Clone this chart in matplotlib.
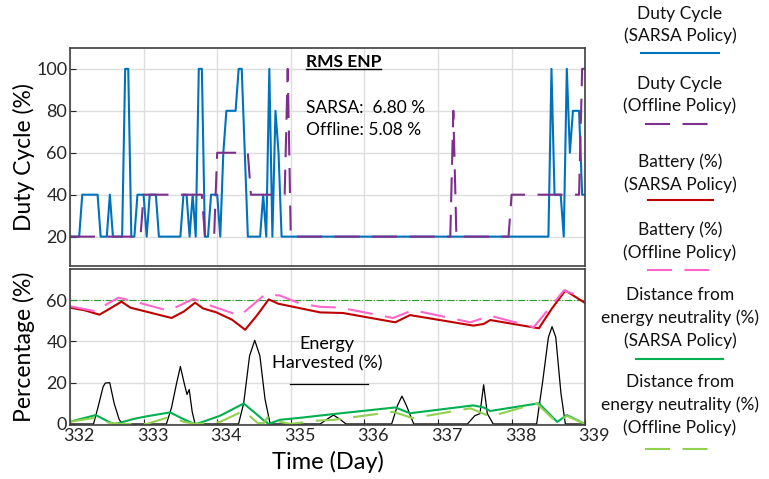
import numpy as np
import matplotlib
matplotlib.use("Agg")
import matplotlib.pyplot as plt
import matplotlib.transforms as mtransforms
from matplotlib.lines import Line2D

plt.rcParams['font.family'] = ['Lato', 'DejaVu Sans']

# Duty cycle, hourly samples from day 332 to 339
dc_hours = np.arange(0, 169)
sarsa_dc = [
    20, 20, 20, 20, 40, 40, 40, 40, 40, 40, 20, 20, 20, 40, 20, 20, 20, 20, 100, 100, 20, 20, 40, 40,   # 332
    40, 20, 40, 40, 40, 20, 20, 20, 20, 20, 20, 20, 20, 40, 40, 20, 40, 20, 100, 100, 20, 20, 40, 40,   # 333
    40, 20, 60, 80, 80, 80, 80, 100, 100, 60, 20, 20, 20, 20, 20, 40, 20, 100, 20, 80, 60, 20, 20, 20, # 334
    20, 20, 20, 20, 20, 20, 20, 20, 20, 20, 20, 20, 20, 20, 20, 20, 20, 20, 20, 20, 20, 20, 20, 20,     # 335
    20, 20, 20, 20, 20, 20, 20, 20, 20, 20, 20, 20, 20, 20, 20, 20, 20, 20, 20, 20, 20, 20, 20, 20,     # 336
    20, 20, 20, 20, 20, 20, 20, 20, 20, 20, 20, 20, 20, 20, 20, 20, 20, 20, 20, 20, 20, 20, 20, 20,     # 337
    20, 20, 20, 20, 20, 20, 20, 20, 20, 20, 20, 20, 20, 100, 40, 40, 40, 20, 100, 60, 80, 80, 80, 40,  # 338
    40,
]
offline_dc = [
    20, 20, 20, 20, 20, 20, 20, 20, 20, 20, 20, 20, 20, 20, 20, 20, 20, 20, 20, 20, 20, 20, 20, 20,     # 332
    40, 40, 40, 40, 40, 40, 40, 40, 40, 40, 40, 40, 40, 40, 40, 40, 40, 40, 40, 40, 20, 20, 20, 20,     # 333
    60, 60, 60, 60, 60, 60, 60, 60, 60, 60, 60, 40, 40, 40, 40, 40, 40, 40, 40, 40, 40, 40, 40, 100,    # 334
    20, 20, 20, 20, 20, 20, 20, 20, 20, 20, 20, 20, 20, 20, 20, 20, 20, 20, 20, 20, 20, 20, 20, 20,     # 335
    20, 20, 20, 20, 20, 20, 20, 20, 20, 20, 20, 20, 20, 20, 20, 20, 20, 20, 20, 20, 20, 20, 20, 20,     # 336
    20, 20, 20, 20, 20, 80, 20, 20, 20, 20, 20, 20, 20, 20, 20, 20, 20, 20, 20, 20, 20, 20, 20, 20,     # 337
    40, 40, 40, 40, 40, 40, 40, 40, 40, 40, 40, 40, 40, 40, 40, 40, 40, 40, 40, 40, 40, 40, 40, 100,    # 338
    100,
]
dc_days = 332 + dc_hours / 24

# Battery level (%)
bat_sarsa_t = [332.00, 332.20, 332.40, 332.55, 332.70, 332.82, 333.10, 333.38, 333.55, 333.70, 333.81,
               333.99, 334.20, 334.38, 334.55, 334.70, 334.83, 335.40, 335.71, 336.42, 336.62, 337.48,
               337.62, 337.71, 338.37, 338.55, 338.73, 339.00]
bat_sarsa = [56.3, 55.0, 52.9, 56.0, 59.2, 56.3, 53.8, 51.3, 54.5, 58.7, 55.9,
             54.0, 50.5, 45.6, 53.0, 60.3, 58.2, 54.0, 53.7, 49.2, 52.7, 47.6,
             48.4, 50.3, 46.3, 56.0, 64.6, 58.5]
bat_off_t = [332.00, 332.36, 332.50, 332.66, 332.82, 333.34, 333.68, 333.81, 334.31, 334.65, 334.85,
             335.13, 335.40, 335.67, 336.39, 336.66, 337.44, 337.71, 338.30, 338.71, 339.00]
bat_off = [57.0, 54.4, 58.0, 61.1, 59.8, 54.8, 60.6, 58.5, 52.4, 62.7, 62.2,
           58.2, 56.7, 56.3, 51.3, 55.1, 49.2, 52.4, 46.8, 64.6, 61.1]

# Energy harvested (%)
eh_t = [332.00, 332.32, 332.38, 332.45, 332.48, 332.54, 332.60, 332.67, 332.72,
        333.31, 333.38, 333.45, 333.50, 333.55, 333.59, 333.62, 333.66, 333.70,
        334.29, 334.36, 334.44, 334.51, 334.58, 334.65, 334.72,
        335.40, 335.50, 335.58, 335.66, 335.75,
        336.37, 336.45, 336.51, 336.57, 336.67,
        337.40, 337.50, 337.57, 337.62, 337.67, 337.75,
        338.34, 338.42, 338.50, 338.55, 338.60, 338.67, 338.73, 339.00]
eh = [0, 0, 8, 18, 19.8, 20, 10, 2, 0,
      0, 8, 20, 27.8, 20, 14.3, 16.7, 6, 0,
      0, 10, 33, 40.5, 33, 12, 0,
      0, 2.5, 4.3, 2.5, 0,
      0, 9, 13.5, 9, 0,
      0, 4, 5, 19, 5, 0,
      0, 20, 42, 47.1, 42, 15, 0, 0]

# Distance from energy neutrality (%)
dist_sarsa_t = [332.00, 332.35, 332.54, 332.61, 332.68, 332.86, 333.04, 333.36, 333.54, 333.65, 333.71,
                333.81, 334.04, 334.36, 334.54, 334.61, 334.70, 334.85, 335.13, 335.58, 336.42, 336.62,
                337.48, 337.62, 337.71, 338.37, 338.62, 338.75, 339.00]
dist_sarsa = [1.1, 4.3, 0.8, 0.0, 0.6, 2.4, 3.7, 5.6, 2.4, 0.6, 0.0,
              1.1, 4.0, 9.9, 4.6, 2.4, 0.0, 2.0, 3.0, 4.8, 8.0, 5.2,
              9.0, 8.0, 6.3, 10.0, 1.0, 4.3, 0.0]
dist_off_t = [332.00, 332.32, 332.54, 332.70, 333.04, 333.36, 333.55, 333.71, 334.04, 334.36, 334.55,
              334.63, 334.70, 334.80, 334.99, 335.35, 335.58, 336.39, 336.66, 337.44, 337.71, 338.34,
              338.62, 338.75, 339.00]
dist_off = [1.1, 2.9, 0.5, 0.0, 0.0, 3.5, 1.0, 0.0, 1.0, 6.4, 0.5,
            0.3, 4.0, 1.5, 0.0, 1.6, 2.0, 5.9, 2.8, 7.6, 3.6, 10.0,
            0.5, 3.9, 0.0]

days = [332, 333, 334, 335, 336, 337, 338, 339]

# Colours
c_blue = '#0072BD'
c_purple = '#7E2F8E'
c_red = '#C00000'
c_pink = '#FF66CC'
c_green = '#00B050'
c_lgreen = '#92D050'
dash = (12, 6)

fig = plt.figure(figsize=(7.69, 4.79), dpi=100)
ax1 = fig.add_axes([0.091, 0.4447, 0.670, 0.4553])
ax2 = fig.add_axes([0.091, 0.1127, 0.670, 0.3257])

for ax in (ax1, ax2):
    ax.set_xlim(332, 339)
    ax.set_xticks(days)
    ax.grid(True, color='#dddddd', linewidth=1)
    ax.set_axisbelow(True)
    ax.tick_params(direction='in', length=4, colors='#262626', labelsize=13, pad=2)
    for s in ax.spines.values():
        s.set_color('#404040')
        s.set_linewidth(1.2)

# Top panel: duty cycle
ax1.plot(dc_days, sarsa_dc, color=c_blue, lw=1.5)
ax1.plot(dc_days, offline_dc, color=c_purple, lw=1.5, dashes=dash)
ax1.set_ylim(6, 110)
ax1.set_yticks([20, 40, 60, 80, 100])
ax1.tick_params(axis='x', labelbottom=False, length=0)
ax1.set_ylabel('Duty Cycle (%)', fontsize=16.5)
ax1.yaxis.set_label_coords(-0.068, 0.5)

ax1.text(0.458, 0.90, 'RMS ENP', transform=ax1.transAxes, fontsize=12.5,
         fontweight='bold', ha='left', va='bottom')
ax1.plot([0.458, 0.604], [0.905, 0.905], transform=ax1.transAxes, color='black', lw=1)
ax1.text(0.458, 0.725, 'SARSA:  6.80 %', transform=ax1.transAxes, fontsize=12.5, va='center')
ax1.text(0.458, 0.622, 'Offline: 5.08 %', transform=ax1.transAxes, fontsize=12.5, va='center')

# Bottom panel: battery, energy, distance
ax2.axhline(60, color='#2ca02c', lw=0.8, ls='-.')
ax2.plot(eh_t, eh, color='black', lw=0.9)
ax2.plot(bat_sarsa_t, bat_sarsa, color=c_red, lw=1.5)
ax2.plot(bat_off_t, bat_off, color=c_pink, lw=1.5, dashes=dash)
ax2.plot(dist_sarsa_t, dist_sarsa, color=c_green, lw=1.5)
ax2.plot(dist_off_t, dist_off, color=c_lgreen, lw=1.5, dashes=dash)
ax2.set_ylim(-0.5, 75)
ax2.set_yticks([0, 20, 40, 60])
ax2.set_ylabel('Percentage (%)', fontsize=16.5)
ax2.yaxis.set_label_coords(-0.068, 0.5)
ax2.set_xlabel('Time (Day)', fontsize=17, labelpad=5)

offset = mtransforms.ScaledTranslation(0.09, 0, fig.dpi_scale_trans)
for lbl in ax2.get_xticklabels():
    lbl.set_transform(lbl.get_transform() + offset)

ax2.text(0.499, 0.46, 'Energy\nHarvested (%)', transform=ax2.transAxes, fontsize=13,
         ha='center', va='center', linespacing=1.25)
ax2.plot([0.427, 0.578], [0.266, 0.266], transform=ax2.transAxes, color='black', lw=0.9)

# Legend on the right
legend_items = [
    ('Duty Cycle\n(SARSA Policy)', 25, 53, c_blue, None, (641, 719)),
    ('Duty Cycle\n(Offline Policy)', 95, 124, c_purple, dash, (645, 710)),
    ('Battery (%)\n(SARSA Policy)', 173, 200, c_red, None, (648, 713)),
    ('Battery (%)\n(Offline Policy)', 241, 270, c_pink, dash, (647, 711)),
    ('Distance from\nenergy neutrality (%)\n(SARSA Policy)', 318, 359, c_green, None, (636, 723)),
    ('Distance from\nenergy neutrality (%)\n(Offline Policy)', 405, 449, c_lgreen, dash, (645, 710)),
]
W, H = 769, 479
for label, ty, ly, col, ds, (x0, x1) in legend_items:
    fig.text(680 / W, 1 - ty / H, label, fontsize=12.5, ha='center', va='center',
             linespacing=1.45, color='#111111')
    ln = Line2D([x0 / W, x1 / W], [1 - ly / H, 1 - ly / H], transform=fig.transFigure,
                color=col, lw=1.5)
    if ds is not None:
        ln.set_dashes(ds)
    fig.add_artist(ln)

plt.savefig('out.png', dpi=100)
